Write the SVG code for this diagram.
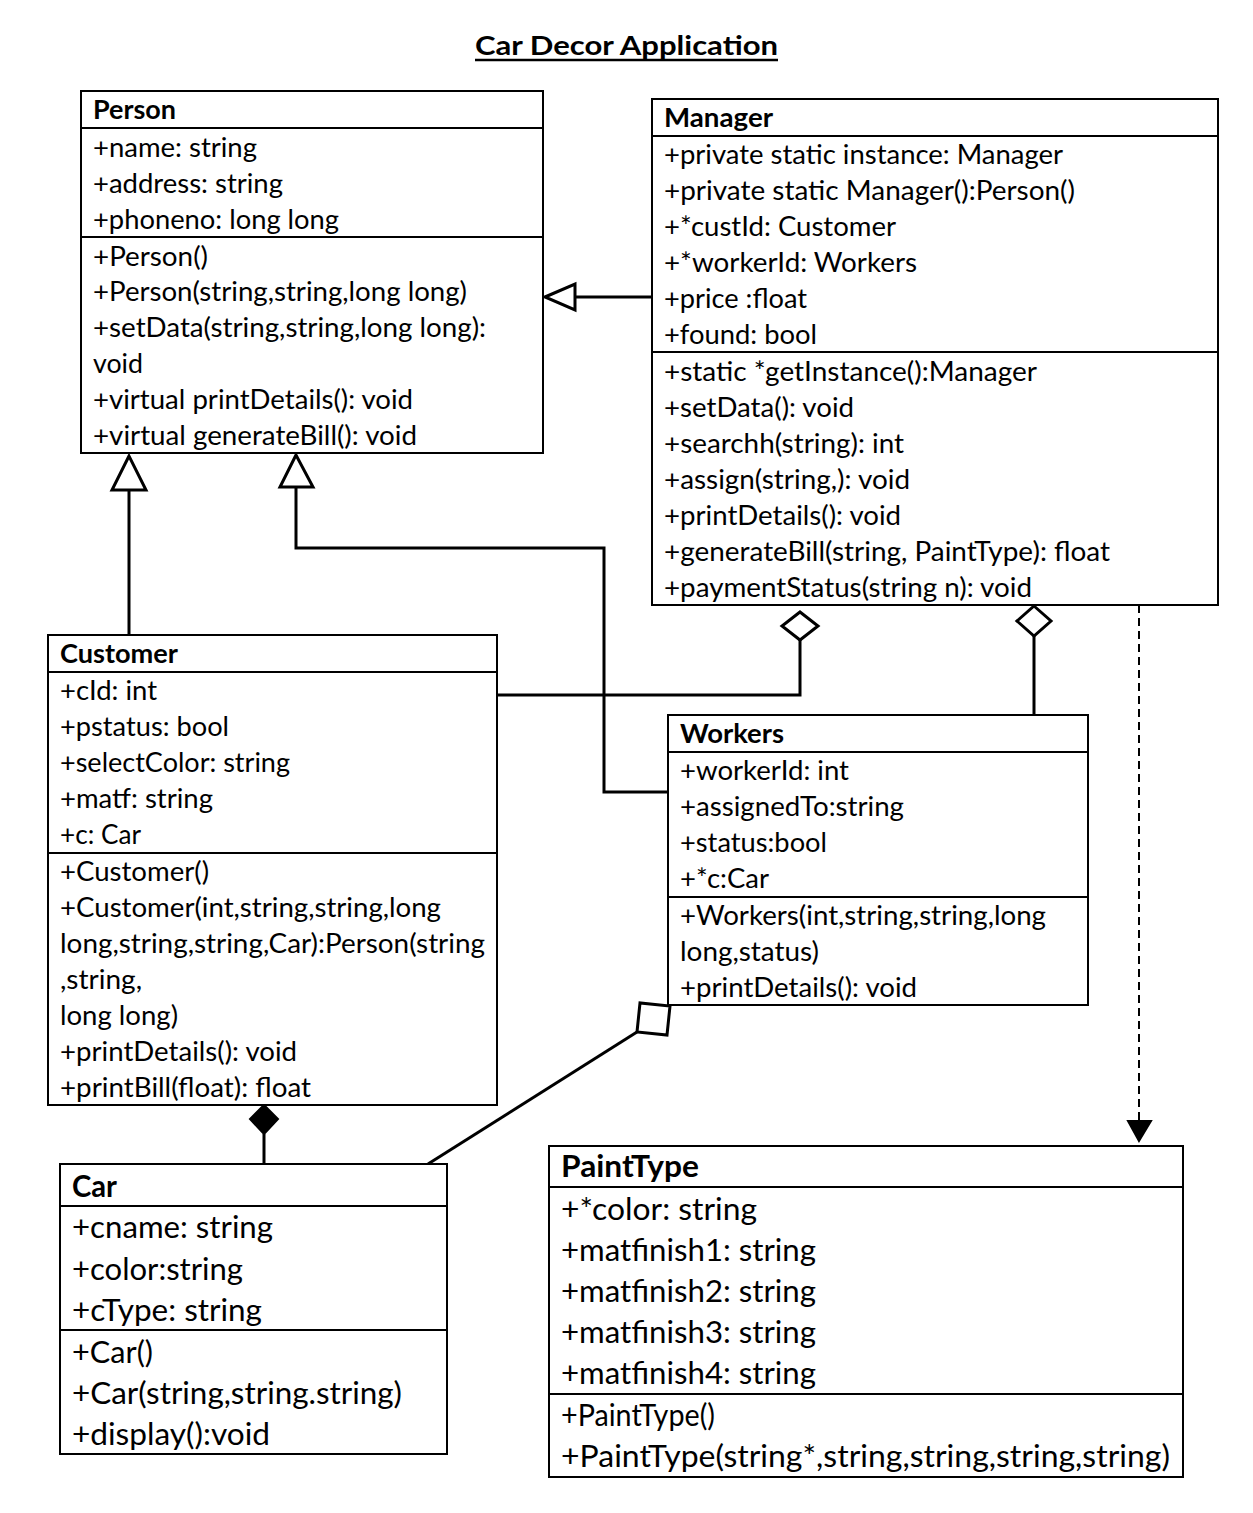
<svg xmlns="http://www.w3.org/2000/svg" width="1253" height="1513" viewBox="0 0 1253 1513">
<style>
.bg{fill:#fff}
.box{fill:#fff;stroke:#000;stroke-width:2}
.sep{stroke:#000;stroke-width:2}
.t{font-family:Lato,"Liberation Sans",sans-serif;font-size:27px;fill:#000}
.b{font-size:30px}
.h{font-weight:bold}
.c{stroke:#000;stroke-width:3;fill:none}
.hollow{fill:#fff;stroke:#000;stroke-width:3}
.solid{fill:#000;stroke:#000;stroke-width:2}
.dash{stroke:#000;stroke-width:2;fill:none;stroke-dasharray:8 5}
</style>
<rect class="bg" x="0" y="0" width="1253" height="1513"/>
<g id="title">
<text class="t h" x="475" y="55" font-size="29" textLength="303" lengthAdjust="spacingAndGlyphs">Car Decor Application</text>
<line x1="475" y1="60" x2="778" y2="60" stroke="#000" stroke-width="2.5"/>
</g>
<g id="connectors">
<line class="c" x1="652" y1="297" x2="575" y2="297"/>
<polygon class="hollow" points="545,297 575,284 575,310"/>
<polyline class="c" points="129,635 129,490"/>
<polygon class="hollow" points="129,456 112,490 146,490"/>
<polyline class="c" points="668,792 604,792 604,548 296,548 296,487"/>
<polygon class="hollow" points="296,455 280,487 313,487"/>
<polyline class="c" points="497,695 800,695 800,640"/>
<polygon class="hollow" points="800,612 818,626 800,640 782,626"/>
<line class="c" x1="1034" y1="715" x2="1034" y2="636"/>
<polygon class="hollow" points="1034,606 1051,621 1034,636 1017,621"/>
<line class="dash" x1="1139" y1="605" x2="1139" y2="1122"/>
<polygon class="solid" points="1128,1121 1151,1121 1139,1141"/>
<line class="c" x1="264" y1="1164" x2="264" y2="1134"/>
<polygon class="solid" points="264,1105 278,1119 264,1134 250,1119"/>
<line class="c" x1="428" y1="1164" x2="637" y2="1032"/>
<polygon class="hollow" points="637,1032 640,1003 670,1006 667,1035"/>
</g>
<g id="Person">
<rect class="box" x="81" y="91" width="462" height="362"/>
<line class="sep" x1="81" y1="128" x2="543" y2="128"/>
<line class="sep" x1="81" y1="237" x2="543" y2="237"/>
<text class="t h" x="93" y="119" textLength="83" lengthAdjust="spacingAndGlyphs">Person</text>
<text class="t" x="93" y="157" textLength="164" lengthAdjust="spacingAndGlyphs">+name: string</text>
<text class="t" x="93" y="193" textLength="190" lengthAdjust="spacingAndGlyphs">+address: string</text>
<text class="t" x="93" y="229" textLength="246" lengthAdjust="spacingAndGlyphs">+phoneno: long long</text>
<text class="t" x="93" y="266" textLength="115" lengthAdjust="spacingAndGlyphs">+Person()</text>
<text class="t" x="93" y="301" textLength="374" lengthAdjust="spacingAndGlyphs">+Person(string,string,long long)</text>
<text class="t" x="93" y="337" textLength="393" lengthAdjust="spacingAndGlyphs">+setData(string,string,long long):</text>
<text class="t" x="93" y="373" textLength="50" lengthAdjust="spacingAndGlyphs">void</text>
<text class="t" x="93" y="409" textLength="320" lengthAdjust="spacingAndGlyphs">+virtual printDetails(): void</text>
<text class="t" x="93" y="445" textLength="324" lengthAdjust="spacingAndGlyphs">+virtual generateBill(): void</text>
</g>
<g id="Manager">
<rect class="box" x="652" y="99" width="566" height="506"/>
<line class="sep" x1="652" y1="136" x2="1218" y2="136"/>
<line class="sep" x1="652" y1="352" x2="1218" y2="352"/>
<text class="t h" x="664" y="127" textLength="109" lengthAdjust="spacingAndGlyphs">Manager</text>
<text class="t" x="664" y="164" textLength="399" lengthAdjust="spacingAndGlyphs">+private static instance: Manager</text>
<text class="t" x="664" y="200" textLength="411" lengthAdjust="spacingAndGlyphs">+private static Manager():Person()</text>
<text class="t" x="664" y="236" textLength="232" lengthAdjust="spacingAndGlyphs">+*custId: Customer</text>
<text class="t" x="664" y="272" textLength="253" lengthAdjust="spacingAndGlyphs">+*workerId: Workers</text>
<text class="t" x="664" y="308" textLength="143" lengthAdjust="spacingAndGlyphs">+price :float</text>
<text class="t" x="664" y="344" textLength="153" lengthAdjust="spacingAndGlyphs">+found: bool</text>
<text class="t" x="664" y="381" textLength="373" lengthAdjust="spacingAndGlyphs">+static *getInstance():Manager</text>
<text class="t" x="664" y="417" textLength="190" lengthAdjust="spacingAndGlyphs">+setData(): void</text>
<text class="t" x="664" y="453" textLength="240" lengthAdjust="spacingAndGlyphs">+searchh(string): int</text>
<text class="t" x="664" y="489" textLength="246" lengthAdjust="spacingAndGlyphs">+assign(string,): void</text>
<text class="t" x="664" y="525" textLength="237" lengthAdjust="spacingAndGlyphs">+printDetails(): void</text>
<text class="t" x="664" y="561" textLength="446" lengthAdjust="spacingAndGlyphs">+generateBill(string, PaintType): float</text>
<text class="t" x="664" y="597" textLength="368" lengthAdjust="spacingAndGlyphs">+paymentStatus(string n): void</text>
</g>
<g id="Customer">
<rect class="box" x="48" y="635" width="449" height="470"/>
<line class="sep" x1="48" y1="672" x2="497" y2="672"/>
<line class="sep" x1="48" y1="853" x2="497" y2="853"/>
<text class="t h" x="60" y="663" textLength="118" lengthAdjust="spacingAndGlyphs">Customer</text>
<text class="t" x="60" y="700" textLength="97" lengthAdjust="spacingAndGlyphs">+cId: int</text>
<text class="t" x="60" y="736" textLength="169" lengthAdjust="spacingAndGlyphs">+pstatus: bool</text>
<text class="t" x="60" y="772" textLength="230" lengthAdjust="spacingAndGlyphs">+selectColor: string</text>
<text class="t" x="60" y="808" textLength="153" lengthAdjust="spacingAndGlyphs">+matf: string</text>
<text class="t" x="60" y="844" textLength="81" lengthAdjust="spacingAndGlyphs">+c: Car</text>
<text class="t" x="60" y="881" textLength="149" lengthAdjust="spacingAndGlyphs">+Customer()</text>
<text class="t" x="60" y="917" textLength="381" lengthAdjust="spacingAndGlyphs">+Customer(int,string,string,long</text>
<text class="t" x="60" y="953" textLength="425" lengthAdjust="spacingAndGlyphs">long,string,string,Car):Person(string</text>
<text class="t" x="60" y="989" textLength="82" lengthAdjust="spacingAndGlyphs">,string,</text>
<text class="t" x="60" y="1025" textLength="118" lengthAdjust="spacingAndGlyphs">long long)</text>
<text class="t" x="60" y="1061" textLength="237" lengthAdjust="spacingAndGlyphs">+printDetails(): void</text>
<text class="t" x="60" y="1097" textLength="251" lengthAdjust="spacingAndGlyphs">+printBill(float): float</text>
</g>
<g id="Workers">
<rect class="box" x="668" y="715" width="420" height="290"/>
<line class="sep" x1="668" y1="752" x2="1088" y2="752"/>
<line class="sep" x1="668" y1="897" x2="1088" y2="897"/>
<text class="t h" x="680" y="743" textLength="104" lengthAdjust="spacingAndGlyphs">Workers</text>
<text class="t" x="680" y="780" textLength="169" lengthAdjust="spacingAndGlyphs">+workerId: int</text>
<text class="t" x="680" y="816" textLength="224" lengthAdjust="spacingAndGlyphs">+assignedTo:string</text>
<text class="t" x="680" y="852" textLength="147" lengthAdjust="spacingAndGlyphs">+status:bool</text>
<text class="t" x="680" y="888" textLength="89" lengthAdjust="spacingAndGlyphs">+*c:Car</text>
<text class="t" x="680" y="925" textLength="366" lengthAdjust="spacingAndGlyphs">+Workers(int,string,string,long</text>
<text class="t" x="680" y="961" textLength="139" lengthAdjust="spacingAndGlyphs">long,status)</text>
<text class="t" x="680" y="997" textLength="237" lengthAdjust="spacingAndGlyphs">+printDetails(): void</text>
</g>
<g id="Car">
<rect class="box" x="60" y="1164" width="387" height="290"/>
<line class="sep" x1="60" y1="1206" x2="447" y2="1206"/>
<line class="sep" x1="60" y1="1330" x2="447" y2="1330"/>
<text class="t b h" x="72" y="1197" textLength="45" lengthAdjust="spacingAndGlyphs">Car</text>
<text class="t b" x="72" y="1238" textLength="201" lengthAdjust="spacingAndGlyphs">+cname: string</text>
<text class="t b" x="72" y="1280" textLength="171" lengthAdjust="spacingAndGlyphs">+color:string</text>
<text class="t b" x="72" y="1321" textLength="190" lengthAdjust="spacingAndGlyphs">+cType: string</text>
<text class="t b" x="72" y="1363" textLength="81" lengthAdjust="spacingAndGlyphs">+Car()</text>
<text class="t b" x="72" y="1404" textLength="330" lengthAdjust="spacingAndGlyphs">+Car(string,string.string)</text>
<text class="t b" x="72" y="1445" textLength="198" lengthAdjust="spacingAndGlyphs">+display():void</text>
</g>
<g id="PaintType">
<rect class="box" x="549" y="1146" width="634" height="331"/>
<line class="sep" x1="549" y1="1187" x2="1183" y2="1187"/>
<line class="sep" x1="549" y1="1394" x2="1183" y2="1394"/>
<text class="t b h" x="561" y="1177" textLength="138" lengthAdjust="spacingAndGlyphs">PaintType</text>
<text class="t b" x="561" y="1220" textLength="196" lengthAdjust="spacingAndGlyphs">+*color: string</text>
<text class="t b" x="561" y="1261" textLength="255" lengthAdjust="spacingAndGlyphs">+matfinish1: string</text>
<text class="t b" x="561" y="1302" textLength="255" lengthAdjust="spacingAndGlyphs">+matfinish2: string</text>
<text class="t b" x="561" y="1343" textLength="255" lengthAdjust="spacingAndGlyphs">+matfinish3: string</text>
<text class="t b" x="561" y="1384" textLength="255" lengthAdjust="spacingAndGlyphs">+matfinish4: string</text>
<text class="t b" x="561" y="1426" textLength="154" lengthAdjust="spacingAndGlyphs">+PaintType()</text>
<text class="t b" x="561" y="1467" textLength="609" lengthAdjust="spacingAndGlyphs">+PaintType(string*,string,string,string,string)</text>
</g>
</svg>
